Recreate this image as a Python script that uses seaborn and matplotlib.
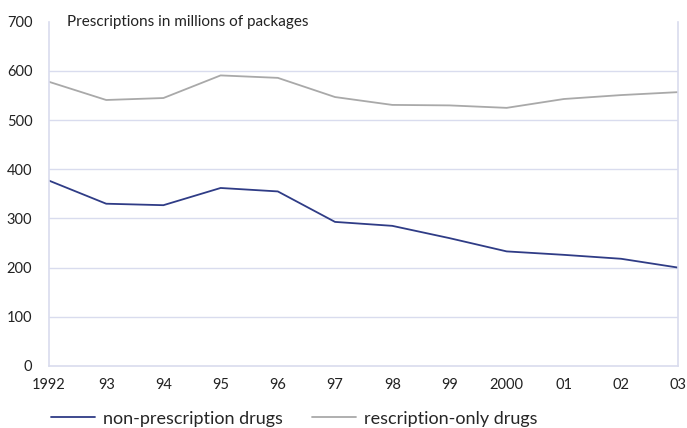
import numpy as np
import pandas as pd
import matplotlib.pyplot as plt
import seaborn as sns

# ── Data ───────────────────────────────────────────────────────────────────
years = [1992, 1993, 1994, 1995, 1996, 1997, 1998, 1999, 2000, 2001, 2002, 2003]
year_labels = ["1992", "93", "94", "95", "96", "97", "98", "99", "2000", "01", "02", "03"]
non_prescription = [377, 330, 327, 362, 355, 293, 285, 260, 233, 226, 218, 200]
prescription_only = [578, 541, 545, 591, 586, 547, 531, 530, 525, 543, 551, 557]

series_names = ["non-prescription drugs", "rescription-only drugs"]
colors = {"non-prescription drugs": "#2f3c86", "rescription-only drugs": "#a9a9a9"}

df = pd.DataFrame({
    "year": years * 2,
    "value": non_prescription + prescription_only,
    "series": [series_names[0]] * len(years) + [series_names[1]] * len(years),
})

# ── Plot ───────────────────────────────────────────────────────────────────
sns.set_style("white")
plt.rcParams["font.family"] = ["Lato", "DejaVu Sans"]

fig = plt.figure(figsize=(6.87, 4.28), dpi=100)
ax = fig.add_axes([0.0713, 0.145, 0.916, 0.804])

sns.lineplot(data=df, x="year", y="value", hue="series", palette=colors,
             linewidth=1.3, ax=ax, legend=False)

grid_c = "#d9dcee"
ax.set_xlim(1992, 2003)
ax.set_ylim(0, 700)
ax.set_yticks(range(0, 701, 100))
ax.set_xticks(years)
ax.set_xticklabels(year_labels)
for yv in range(100, 601, 100):
    ax.axhline(yv, color=grid_c, linewidth=1, zorder=0)

for side in ["left", "right", "bottom"]:
    ax.spines[side].set_color(grid_c)
    ax.spines[side].set_linewidth(1.2)
ax.spines["top"].set_visible(False)
ax.tick_params(axis="both", length=3, width=1, color="#6b78b8",
               labelsize=10.5, labelcolor="#222222")
ax.tick_params(axis="y", pad=9)
ax.tick_params(axis="x", pad=6)
ax.set_xlabel("")
ax.set_ylabel("")

ax.text(0.028, 1.0, "Prescriptions in millions of packages", transform=ax.transAxes,
        fontsize=11, color="#222222", va="center", ha="left")

# Legend below the axes
handles = [plt.Line2D([], [], color=colors[n], linewidth=1.3) for n in series_names]
fig.legend(handles, series_names, loc="center left", bbox_to_anchor=(0.050, 0.022),
           ncol=2, frameon=False, fontsize=13, handlelength=2.45, handletextpad=0.45,
           columnspacing=1.6)

fig.savefig("out.png", dpi=100)
